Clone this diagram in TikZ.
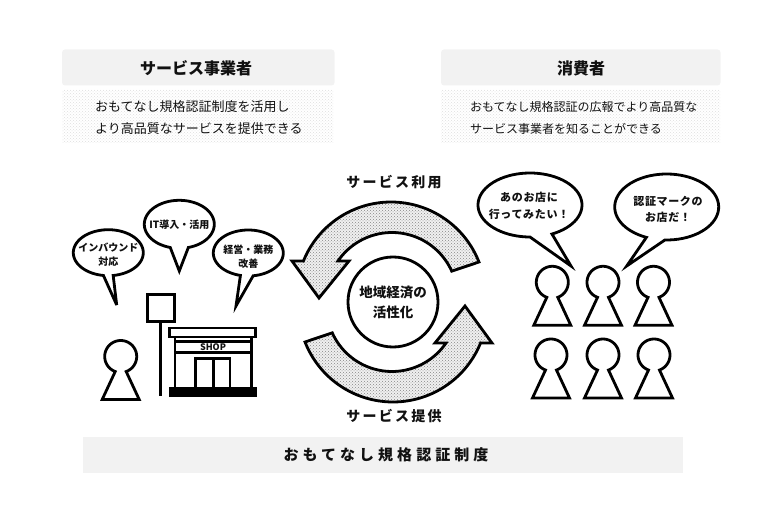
\documentclass[tikz,border=0pt]{standalone}
\usepackage{fontspec}
\usetikzlibrary{patterns}
\setmainfont{Noto Sans CJK JP}
\definecolor{panel}{HTML}{F2F2F2}
\definecolor{ink}{HTML}{111111}
\tikzset{
  heavy/.style={draw=black,line width=2.8pt,line join=miter,miter limit=6},
  headbox/.style={fill=panel,rounded corners=3pt},
  dotbox/.style={pattern=crosshatch dots,pattern color=black!13},
  flow/.style={heavy,preaction={fill=black!6},preaction={pattern=crosshatch dots,pattern color=black!48}},
  txt/.style={inner sep=0pt,text=ink,font=\fontsize{13}{13}\selectfont},
  ttl/.style={inner sep=0pt,text=ink,font=\fontsize{16}{16}\selectfont\bfseries},
  lab/.style={inner sep=0pt,text=ink,font=\fontsize{14}{14}\selectfont\addfontfeature{LetterSpace=16}\bfseries},
  bub/.style={inner sep=0pt,align=center,text=ink,font=\fontsize{10}{14}\selectfont\bfseries},
  bubl/.style={inner sep=0pt,align=center,text=ink,font=\fontsize{11}{16.5}\selectfont\bfseries\addfontfeature{LetterSpace=6}},
}
\newcommand{\personat}[2]{%
  \begin{scope}[shift={(#1,#2)}]
    \draw[heavy,fill=white] plot[domain=-70:250,samples=50,smooth] ({16*cos(\x)},{-16*sin(\x)})
      -- (-18.5,43) -- (18.5,43) -- cycle;
  \end{scope}}
\newcommand{\bubbleat}[8]{%
  \draw[heavy,fill=white] plot[domain=#5:#6,samples=70,smooth] ({#1+#3*cos(\x)},{#2-#4*sin(\x)})
    -- (#7,#8) -- cycle;}
\newcommand{\flowarrow}{%
  \draw[flow] plot[domain=21.4:158,samples=40,smooth] ({391+94.5*cos(\x)},{296.5-94.5*sin(\x)})
    -- (292,261) -- (319,298) -- (349,261) -- (338,261)
    -- plot[domain=145.6:24.2,samples=40,smooth] ({392+65.5*cos(\x)},{298-65.5*sin(\x)})
    -- cycle;}
\begin{document}
\begin{tikzpicture}[x=1pt,y=-1pt]
\useasboundingbox (0,0) rectangle (780,524);
% header panels
\fill[headbox] (62,49.5) rectangle (334.5,85.5);
\fill[headbox] (441,49.5) rectangle (720.5,85.5);
\fill[dotbox] (62,90) rectangle (333,143);
\fill[dotbox] (441,90) rectangle (720,143);
\fill[panel] (83,437) rectangle (683,473);
\node[ttl] (t1) at (196,68) {サービス事業者};
\node[ttl] (t2) at (581,68.5) {消費者};
\node[txt,anchor=west] (a1) at (95,107) {おもてなし規格認証制度を活用し};
\node[txt,anchor=west] (a2) at (95,129) {より高品質なサービスを提供できる};
\node[txt,anchor=west,font=\fontsize{12}{12}\selectfont] (b1) at (470,107) {おもてなし規格認証の広報でより高品質な};
\node[txt,anchor=west,font=\fontsize{12}{12}\selectfont] (b2) at (470,129) {サービス事業者を知ることができる};
\node[lab] (use) at (394,182) {サービス利用};
\node[lab] (give) at (394,416) {サービス提供};
\node[inner sep=0pt,text=ink,font=\fontsize{15}{15}\selectfont\bfseries\addfontfeature{LetterSpace=27}] (sys) at (386,455) {おもてなし規格認証制度};
% cycle arrows
\flowarrow
\begin{scope}[rotate around={180:(392,302)}]
\flowarrow
\end{scope}
\node[heavy,circle,fill=white,minimum size=90pt,inner sep=0pt,align=center,text=ink,font=\fontsize{13.5}{20}\selectfont\bfseries] (hub) at (393,302) {地域経済の\\活性化};
% shop side
\bubbleat{108.3}{252.7}{35}{23}{-82}{262}{116.7}{305}
\bubbleat{179.3}{224.3}{35}{24}{-75}{255}{179.3}{271}
\bubbleat{248.3}{253}{35}{23}{-82}{257}{236}{306}
\node[bub] (q1) at (108.3,254.5) {インバウンド\\対応};
\node[bub] (q2) at (179.3,225) {IT導入・活用};
\node[bub] (q3) at (248.3,256.5) {経営・業務\\改善};
\personat{120.7}{356.5}
\node[heavy,fill=white,minimum size=27pt,inner sep=0pt] (sign) at (160.7,308.3) {};
\coordinate (poleend) at (160.7,396);
\draw[heavy] (sign.south) -- (poleend);
% shop
\draw[heavy] (175,336.7) -- (175,387) (251.7,336.7) -- (251.7,387);
\draw[heavy] (175,341.7) -- (251.7,341.7) (175,352.7) -- (251.7,352.7);
\draw[heavy,fill=white] (169.5,328) rectangle (255.5,337);
\draw[heavy] (195.7,387) -- (195.7,358.3) -- (230,358.3) -- (230,387) (213.3,358.3) -- (213.3,387);
\fill[black] (168.5,386.5) rectangle (256.5,396.5);
\node[inner sep=0pt,text=ink,font=\fontsize{9}{9}\selectfont\bfseries] (shop) at (213,347.2) {SHOP};
% consumers
\bubbleat{530}{205}{52}{32}{-65}{270}{571}{266}
\bubbleat{666.7}{207}{52}{33}{-92}{247}{626.7}{266}
\node[bubl] (q4) at (529,206) {あのお店に\\行ってみたい！};
\node[bubl] (q5) at (668,209.5) {認証マークの\\お店だ！};
\personat{552.3}{282.3}
\personat{603}{282.3}
\personat{653.5}{282.3}
\personat{551}{355}
\personat{603}{355}
\personat{654}{355}
\end{tikzpicture}
\end{document}
